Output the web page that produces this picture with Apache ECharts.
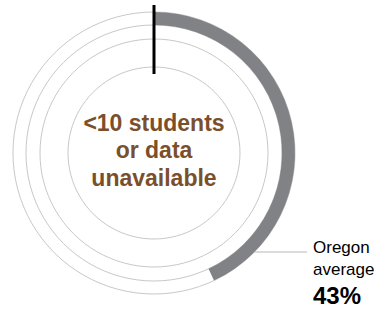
<!DOCTYPE html>
<html>
<head>
<meta charset="utf-8">
<script src="https://cdn.jsdelivr.net/npm/echarts@6/dist/echarts.min.js"></script>
<style>
  html, body { margin: 0; padding: 0; background: #fff; }
  #main { width: 381px; height: 309px; }
</style>
</head>
<body>
<div id="main"></div>
<script>
// 数据
var stateAvg = 43;           // Oregon average (%)
var stateLabel = ['Oregon', 'average'];
var centerText = ['<10 students', 'or data', 'unavailable'];
var guideRadii = [128, 114, 86];   // 细灰圆

(function () {
  var myChart = echarts.init(document.querySelector('#main'), null, { renderer: 'svg' });
  var cx = 154, cy = 153, outerR = 141;

  // 细圆环
  var rings = guideRadii.concat([outerR]).map(function (r) {
    return {
      type: 'pie',
      silent: true,
      center: [cx, cy],
      radius: [0, r],
      label: { show: false },
      labelLine: { show: false },
      itemStyle: { color: 'rgba(0,0,0,0)', borderColor: '#c8c8c8', borderWidth: 1 },
      data: [{ value: 1 }]
    };
  });

  // 州平均值的弧
  var arc = {
    type: 'pie',
    silent: true,
    center: [cx, cy],
    radius: [128, outerR],
    startAngle: 90,
    clockwise: true,
    label: { show: false },
    labelLine: { show: false },
    data: [
      { value: stateAvg, itemStyle: { color: '#808285' } },
      { value: 100 - stateAvg, itemStyle: { color: 'rgba(0,0,0,0)' } }
    ]
  };

  // 引线位置
  var lineY = 252;
  var lineX0 = cx + Math.sqrt(outerR * outerR - (lineY - cy) * (lineY - cy));

  var option = {
    animation: false,
    series: rings.concat([arc]),
    graphic: [
      // 0 位置的黑色标记
      {
        type: 'line', z: 10,
        shape: { x1: cx, y1: cy - 148, x2: cx, y2: cy - 79 },
        style: { stroke: '#000', lineWidth: 3 }
      },
      {
        type: 'line', z: 10,
        shape: { x1: lineX0, y1: lineY, x2: 307, y2: lineY },
        style: { stroke: '#b8b8b8', lineWidth: 1.2 }
      },
      {
        type: 'text', x: 313, y: 236,
        style: {
          text: stateLabel.join('\n'),
          font: '17px "Liberation Sans", Arial, sans-serif',
          lineHeight: 22, fill: '#000'
        }
      },
      {
        type: 'text', x: 313, y: 283,
        style: {
          text: stateAvg + '%',
          font: 'bold 24px "Liberation Sans", Arial, sans-serif',
          fill: '#000'
        }
      },
      {
        type: 'text', x: cx, y: 150,
        style: {
          text: centerText.join('\n'),
          font: 'bold 23px "Liberation Sans", Arial, sans-serif',
          lineHeight: 27.5, fill: '#7b4f2b',
          align: 'center', verticalAlign: 'middle'
        }
      }
    ]
  };
  myChart.setOption(option);
  window.addEventListener('resize', function () {
    myChart.resize();
  });
})();
</script>
</body>
</html>
